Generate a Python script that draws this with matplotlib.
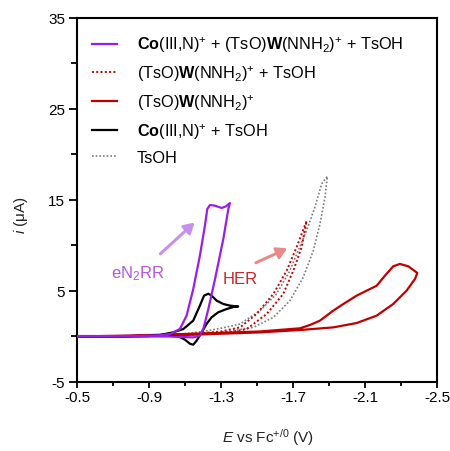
import matplotlib
matplotlib.use("Agg")
import matplotlib.pyplot as plt
import numpy as np

plt.rcParams['font.family'] = ['Liberation Sans', 'DejaVu Sans']
plt.rcParams['mathtext.fontset'] = 'custom'
plt.rcParams['mathtext.rm'] = 'Liberation Sans'
plt.rcParams['mathtext.it'] = 'Liberation Sans:italic'
plt.rcParams['mathtext.bf'] = 'Liberation Sans:bold'

# ---- data (E in V vs Fc+/0, i in uA) ----
purple_E = [-0.5, -0.7, -0.9, -0.97, -1.017, -1.072, -1.109, -1.146, -1.183, -1.211, -1.224, -1.239,
            -1.267, -1.304, -1.328, -1.35, -1.341, -1.313, -1.267, -1.23, -1.202, -1.183, -1.146,
            -1.0, -0.8, -0.5]
purple_i = [0.05, 0.05, 0.08, 0.15, 0.27, 0.82, 2.29, 5.2, 8.88, 12.18, 14.0, 14.45,
            14.37, 14.12, 14.3, 14.67, 14.0, 10.7, 6.3, 3.02, 0.82, 0.1, -0.1,
            0.0, 0.0, 0.0]

black_E = [-0.5, -0.7, -0.9, -0.961, -1.035, -1.091, -1.146, -1.183, -1.206, -1.23, -1.248, -1.276,
           -1.313, -1.35, -1.396, -1.369, -1.332, -1.285, -1.248, -1.22, -1.193, -1.165, -1.146,
           -1.128, -1.1, -1.063, -1.017, -0.9, -0.7, -0.5]
black_i = [0.0, 0.0, 0.05, 0.16, 0.46, 0.82, 1.74, 3.39, 4.49, 4.7, 4.49, 3.94,
           3.57, 3.39, 3.3, 3.24, 3.02, 2.66, 2.11, 1.37, 0.46, -0.46, -0.9,
           -0.8, -0.35, 0.02, 0.1, 0.05, 0.0, 0.0]

red_E = [-0.5, -0.8, -1.146, -1.517, -1.739, -1.794, -1.85, -1.924, -1.98, -2.054, -2.109, -2.165,
         -2.211, -2.257, -2.294, -2.341, -2.391, -2.378, -2.331, -2.257, -2.165, -2.054, -1.924,
         -1.739, -1.517, -1.146, -0.8, -0.5]
red_i = [0.0, 0.1, 0.3, 0.55, 0.9, 1.26, 1.74, 2.84, 3.57, 4.49, 5.03, 5.58,
         6.68, 7.71, 7.97, 7.71, 6.98, 6.32, 5.03, 3.57, 2.29, 1.48, 1.0,
         0.71, 0.45, 0.2, 0.05, 0.0]

reddot_E = [-0.9, -1.146, -1.35, -1.443, -1.554, -1.646, -1.702, -1.748, -1.776,
            -1.72, -1.665, -1.591, -1.498, -1.406, -1.3, -1.15, -0.9]
reddot_i = [0.05, 0.2, 0.45, 0.82, 2.47, 4.67, 7.23, 9.8, 12.7,
            9.8, 7.23, 4.67, 2.47, 1.0, 0.55, 0.3, 0.05]

gray_E = [-0.9, -1.1, -1.294, -1.48, -1.591, -1.683, -1.757, -1.813, -1.85, -1.878, -1.891,
          -1.859, -1.822, -1.776, -1.729, -1.683, -1.609, -1.517, -1.406, -1.3, -1.2, -1.1, -0.9]
gray_i = [0.05, 0.15, 0.4, 1.0, 2.1, 3.93, 6.5, 9.43, 12.36, 15.3, 17.6,
          16.76, 14.2, 11.63, 9.43, 7.23, 4.67, 2.84, 1.37, 0.9, 0.55, 0.3, 0.05]

labels = [r"$\mathbf{Co}$(III,N)$^{+}$ + (TsO)$\mathbf{W}$(NNH$_{2}$)$^{+}$ + TsOH",
          r"(TsO)$\mathbf{W}$(NNH$_{2}$)$^{+}$ + TsOH",
          r"(TsO)$\mathbf{W}$(NNH$_{2}$)$^{+}$",
          r"$\mathbf{Co}$(III,N)$^{+}$ + TsOH",
          "TsOH"]

xticks = [-0.5, -0.9, -1.3, -1.7, -2.1, -2.5]
yticks = [-5, 5, 15, 25, 35]

PURPLE = '#9a1ee6'
RED = '#c00000'

fig = plt.figure(figsize=(4.5, 4.52), dpi=100)
ax = fig.add_axes([0.171, 0.1527, 0.80, 0.8053])

ax.plot(gray_E, gray_i, color='#7a7a7a', lw=1.2, ls=(0, (1, 1.2)), label=labels[4], zorder=2)
ax.plot(reddot_E, reddot_i, color=RED, lw=1.4, ls=(0, (1, 1.2)), label=labels[1], zorder=3)
ax.plot(red_E, red_i, color=RED, lw=1.6, label=labels[2], zorder=4)
ax.plot(black_E, black_i, color='black', lw=1.6, label=labels[3], zorder=5)
ax.plot(purple_E, purple_i, color=PURPLE, lw=1.6, label=labels[0], zorder=6)

ax.set_xlim(-0.5, -2.5)
ax.set_ylim(-5, 35)
ax.set_xticks(xticks)
ax.set_xticklabels([f"{v:.1f}" for v in xticks])
ax.set_yticks(yticks)
ax.set_yticklabels([str(v) for v in yticks])
ax.set_xticks([-0.7, -1.1, -1.5, -1.9, -2.3], minor=True)
ax.set_yticks([0, 10, 20, 30], minor=True)
ax.tick_params(axis='both', which='both', direction='out', width=1.3, labelsize=11)
ax.tick_params(axis='x', which='major', length=4, pad=2)
ax.tick_params(axis='x', which='minor', length=3)
ax.tick_params(axis='y', which='major', length=5.5, pad=3)
ax.tick_params(axis='y', which='minor', length=4)
for s in ax.spines.values():
    s.set_linewidth(1.5)

ax.set_xlabel(r"$\mathit{E}$ vs Fc$^{+/0}$ (V)", fontsize=11, color='#222222')
ax.set_ylabel(r"$\mathit{i}$ ($\mathrm{\mu}$A)", fontsize=11, color='#222222')
ax.xaxis.set_label_coords(0.53, -0.12)
ax.yaxis.set_label_coords(-0.13, 0.46)

# annotations
ax.annotate("", xy=(-1.165, 12.73), xytext=(-0.952, 8.88),
            arrowprops=dict(arrowstyle='-|>,head_length=0.6,head_width=0.35', color='#c890ee', lw=2.2))
ax.annotate("", xy=(-1.683, 9.8), xytext=(-1.48, 7.97),
            arrowprops=dict(arrowstyle='-|>,head_length=0.6,head_width=0.35', color='#e88a8a', lw=2.2))
ax.text(-0.84, 7.0, r"eN$_2$RR", color='#b058e0', fontsize=12, ha='center', va='center')
ax.text(-1.406, 6.4, "HER", color='#c8282a', fontsize=12, ha='center', va='center')

handles, labs = ax.get_legend_handles_labels()
order = [labels.index(l) for l in labs]
hl = sorted(zip(order, handles, labs))
leg = ax.legend([h for _, h, _ in hl], [l for _, _, l in hl], loc='upper left',
                bbox_to_anchor=(0.011, 0.985), frameon=False, fontsize=11.7,
                handlelength=1.55, handletextpad=1.2, labelspacing=0.56, borderaxespad=0.3)

fig.savefig("out.png", dpi=100)
